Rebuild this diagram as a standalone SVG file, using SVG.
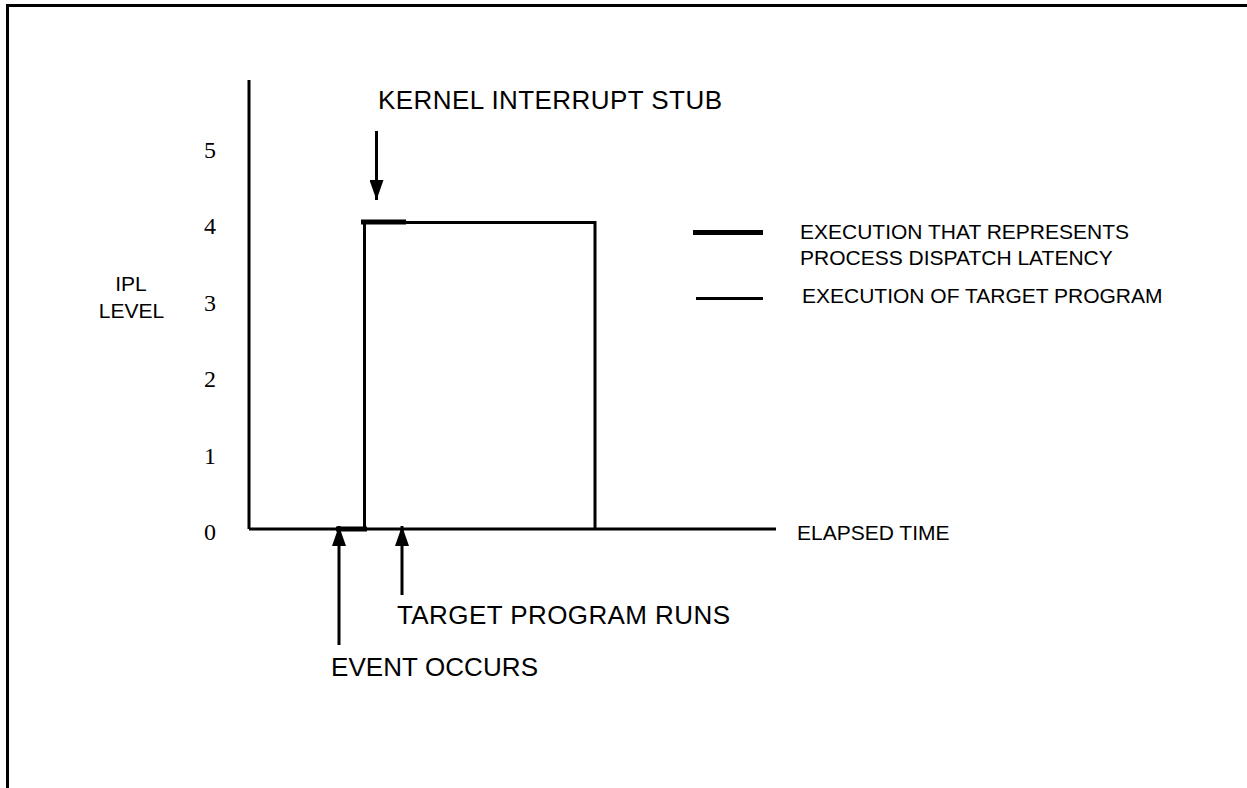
<svg xmlns="http://www.w3.org/2000/svg" width="1247" height="788" viewBox="0 0 1247 788">
<defs>
<style>
.sans{font-family:"Liberation Sans",Arial,sans-serif;fill:#000}
.serif{font-family:"Liberation Serif","Times New Roman",serif;fill:#000;font-size:24px}
.thin{stroke:#000;stroke-width:3;fill:none}
.thick{stroke:#000;stroke-width:5;fill:none}
.arr{stroke:#000;stroke-width:3;fill:none}
</style>
<marker id="head" viewBox="0 0 20 14" refX="20" refY="7" markerWidth="20" markerHeight="14" markerUnits="userSpaceOnUse" orient="auto">
<path d="M0,0 L20,7 L0,14 Z" fill="#000"/>
</marker>
</defs>
<rect width="1247" height="788" fill="#fff"/>
<path d="M7.5 788 V5.5 H1247" stroke="#000" stroke-width="3" fill="none"/>

<g id="axes">
<line class="thin" x1="249" y1="80" x2="249" y2="529"/>
<line class="thin" x1="249" y1="529" x2="776" y2="529"/>
<text class="serif" x="204" y="158">5</text>
<text class="serif" x="204" y="234">4</text>
<text class="serif" x="204" y="311">3</text>
<text class="serif" x="204" y="387">2</text>
<text class="serif" x="204" y="464">1</text>
<text class="serif" x="204" y="540">0</text>
<text class="sans" x="131" y="291" font-size="21" text-anchor="middle">IPL</text>
<text class="sans" x="131.5" y="318" font-size="21" text-anchor="middle">LEVEL</text>
<text class="sans" x="797" y="540" font-size="21">ELAPSED TIME</text>
</g>

<g id="trace">
<polyline class="thin" points="364.5,529 364.5,222.5 595,222.5 595,529"/>
<line class="thick" x1="336" y1="529" x2="367" y2="529"/>
<line class="thick" x1="361" y1="222" x2="406" y2="222"/>
</g>

<g id="legend">
<line class="thick" x1="693" y1="232.5" x2="763" y2="232.5"/>
<line class="thin" x1="696" y1="298.5" x2="763" y2="298.5"/>
<text class="sans" x="800" y="239" font-size="21">EXECUTION THAT REPRESENTS</text>
<text class="sans" x="800" y="265" font-size="21">PROCESS DISPATCH LATENCY</text>
<text class="sans" x="802" y="303" font-size="21">EXECUTION OF TARGET PROGRAM</text>
</g>

<g id="labels">
<text class="sans" x="378" y="109" font-size="26" textLength="344">KERNEL INTERRUPT STUB</text>
<text class="sans" x="397" y="624" font-size="26" textLength="333">TARGET PROGRAM RUNS</text>
<text class="sans" x="331" y="676" font-size="26" textLength="207">EVENT OCCURS</text>
</g>

<g id="connectors">
<line class="arr" x1="376.5" y1="131" x2="376.5" y2="200" marker-end="url(#head)"/>
<line class="arr" x1="339" y1="645" x2="339" y2="526" marker-end="url(#head)"/>
<line class="arr" x1="402" y1="595" x2="402" y2="526" marker-end="url(#head)"/>
</g>
</svg>
